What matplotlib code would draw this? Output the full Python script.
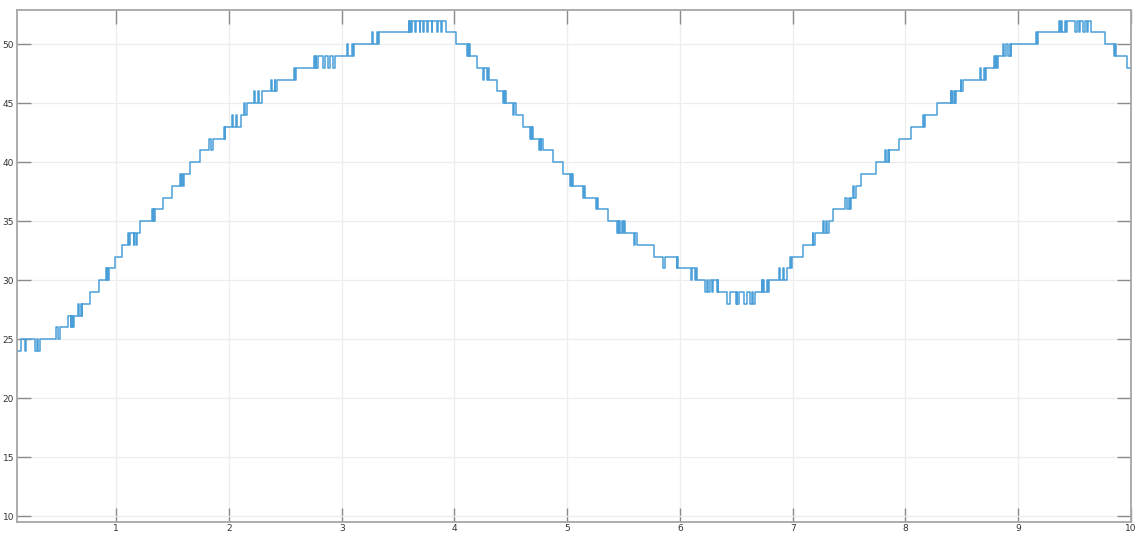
import matplotlib
matplotlib.use("Agg")
import matplotlib.pyplot as plt

# breakpoints: from time t onward the signal holds value v
t_break = [
    0.122, 0.153, 0.193, 0.202, 0.276, 0.297, 0.306, 0.326,
    0.468, 0.480, 0.502,
    0.572, 0.596, 0.600, 0.606, 0.612, 0.617, 0.623,
    0.663, 0.674, 0.688, 0.694, 0.700,
    0.770, 0.847,
    0.911, 0.916, 0.922, 0.927, 0.935,
    0.988, 1.053,
    1.106, 1.117, 1.124, 1.155, 1.162, 1.175, 1.183,
    1.213,
    1.319, 1.325, 1.333, 1.338, 1.348,
    1.417, 1.496,
    1.567, 1.575, 1.585, 1.592, 1.600,
    1.656, 1.745,
    1.827, 1.840, 1.862,
    1.957, 1.962, 1.968,
    2.031, 2.040, 2.060, 2.072, 2.110,
    2.130, 2.139, 2.161,
    2.225, 2.234, 2.254, 2.264, 2.290,
    2.372, 2.380, 2.404, 2.411, 2.428,
    2.578, 2.583, 2.594,
    2.755, 2.761, 2.770, 2.776, 2.793, 2.834, 2.849, 2.880, 2.893, 2.921, 2.936,
    3.048, 3.060, 3.089, 3.097, 3.109,
    3.268, 3.280, 3.311, 3.318, 3.331,
    3.594, 3.600, 3.608, 3.613, 3.625, 3.650, 3.660, 3.690, 3.696, 3.725,
    3.732, 3.760, 3.766, 3.800, 3.805, 3.845, 3.852, 3.880, 3.886, 3.928,
    4.014,
    4.112, 4.118, 4.127, 4.133, 4.138,
    4.200,
    4.252, 4.260, 4.292, 4.300, 4.306,
    4.378,
    4.431, 4.437, 4.445, 4.450, 4.457,
    4.520, 4.528, 4.545,
    4.608,
    4.670, 4.676, 4.684, 4.690, 4.700,
    4.750, 4.756, 4.765, 4.771, 4.786,
    4.874,
    4.960,
    5.025, 5.031, 5.038, 5.044, 5.050,
    5.140, 5.147, 5.157,
    5.256, 5.263, 5.273,
    5.362,
    5.441, 5.447, 5.455, 5.462, 5.470, 5.490, 5.497, 5.505, 5.512,
    5.592, 5.600, 5.617,
    5.770,
    5.852, 5.866, 5.970, 5.976, 5.985,
    6.095, 6.104, 6.133, 6.140, 6.148,
    6.222, 6.236, 6.251, 6.266, 6.281, 6.294, 6.325, 6.333, 6.340,
    6.414, 6.443, 6.496, 6.503, 6.510, 6.526, 6.567, 6.591, 6.620, 6.638, 6.647, 6.665,
    6.724, 6.730, 6.738, 6.744, 6.770, 6.778, 6.788,
    6.880, 6.890, 6.915, 6.925, 6.945,
    6.975, 6.981, 6.990,
    7.090,
    7.178, 7.184, 7.197,
    7.270, 7.280, 7.295, 7.305, 7.318,
    7.356,
    7.463, 7.477, 7.500, 7.508, 7.516,
    7.534, 7.540, 7.562,
    7.605, 7.738,
    7.818, 7.830, 7.846, 7.852, 7.856,
    7.941, 8.048,
    8.154, 8.160, 8.174,
    8.278,
    8.401, 8.407, 8.414, 8.420, 8.437, 8.443, 8.448,
    8.489, 8.496, 8.508,
    8.664, 8.672, 8.700, 8.707, 8.713,
    8.786, 8.793, 8.805, 8.810, 8.816,
    8.861, 8.872, 8.890, 8.910, 8.925, 8.932, 8.940,
    9.156, 9.163, 9.176,
    9.363, 9.370, 9.378, 9.385, 9.413, 9.420, 9.428,
    9.502, 9.517, 9.537, 9.552, 9.575, 9.590, 9.610, 9.617, 9.641,
    9.768,
    9.848, 9.855, 9.870,
    9.963,
    10.0,
]
v_break = [
    24, 25, 24, 25, 24, 25, 24, 25,
    26, 25, 26,
    27, 26, 27, 26, 27, 26, 27,
    28, 27, 28, 27, 28,
    29, 30,
    31, 30, 31, 30, 31,
    32, 33,
    34, 33, 34, 33, 34, 33, 34,
    35,
    36, 35, 36, 35, 36,
    37, 38,
    39, 38, 39, 38, 39,
    40, 41,
    42, 41, 42,
    43, 42, 43,
    44, 43, 44, 43, 44,
    45, 44, 45,
    46, 45, 46, 45, 46,
    47, 46, 47, 46, 47,
    48, 47, 48,
    49, 48, 49, 48, 49, 48, 49, 48, 49, 48, 49,
    50, 49, 50, 49, 50,
    51, 50, 51, 50, 51,
    52, 51, 52, 51, 52, 51, 52, 51, 52, 51,
    52, 51, 52, 51, 52, 51, 52, 51, 52, 51,
    50,
    49, 50, 49, 50, 49,
    48,
    47, 48, 47, 48, 47,
    46,
    45, 46, 45, 46, 45,
    44, 45, 44,
    43,
    42, 43, 42, 43, 42,
    41, 42, 41, 42, 41,
    40,
    39,
    38, 39, 38, 39, 38,
    37, 38, 37,
    36, 37, 36,
    35,
    34, 35, 34, 35, 34, 35, 34, 35, 34,
    33, 34, 33,
    32,
    31, 32, 31, 32, 31,
    30, 31, 30, 31, 30,
    29, 30, 29, 30, 29, 30, 29, 30, 29,
    28, 29, 28, 29, 28, 29, 28, 29, 28, 29, 28, 29,
    30, 29, 30, 29, 30, 29, 30,
    31, 30, 31, 30, 31,
    32, 31, 32,
    33,
    34, 33, 34,
    35, 34, 35, 34, 35,
    36,
    37, 36, 37, 36, 37,
    38, 37, 38,
    39, 40,
    41, 40, 41, 40, 41,
    42, 43,
    44, 43, 44,
    45,
    46, 45, 46, 45, 46, 45, 46,
    47, 46, 47,
    48, 47, 48, 47, 48,
    49, 48, 49, 48, 49,
    50, 49, 50, 49, 50, 49, 50,
    51, 50, 51,
    52, 51, 52, 51, 52, 51, 52,
    51, 52, 51, 52, 51, 52, 51, 52, 51,
    50,
    49, 50, 49,
    48,
    48,
]

x_ticks = [1, 2, 3, 4, 5, 6, 7, 8, 9, 10]
y_ticks = [10, 15, 20, 25, 30, 35, 40, 45, 50]

fig = plt.figure(figsize=(11.44, 5.33), dpi=100)
ax = fig.add_axes([17 / 1144, 1 - 522 / 533, (1131 - 17) / 1144, (522 - 10) / 533])

ax.step(t_break, v_break, where="post", color="#4a9fd8", linewidth=1.1)

ax.set_xlim(0.12, 10)
ax.set_ylim(9.5, 52.9)
ax.set_xticks(x_ticks)
ax.set_yticks(y_ticks)
ax.set_xticklabels([str(x) for x in x_ticks])
ax.set_yticklabels([str(y) for y in y_ticks])

ax.grid(True, color="#ededed", linewidth=0.9)
ax.set_axisbelow(True)
for s in ax.spines.values():
    s.set_color("#a6a6a6")
    s.set_linewidth(1.3)
ax.tick_params(direction="in", length=10, width=1.0, color="#8c8c8c",
               labelsize=6.5, labelcolor="#333333", top=True, right=True)
ax.tick_params(axis="x", pad=1.5)
ax.tick_params(axis="y", pad=2)

fig.savefig("out.png", dpi=100)
